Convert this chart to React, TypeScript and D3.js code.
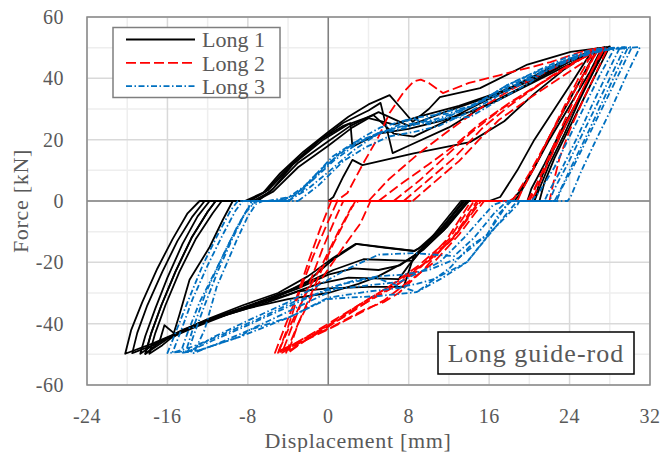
import React from 'react';
import * as d3 from 'd3';

type Pt = [number, number];

// Long 1 – black, solid
const long1Cycle1: Pt[] = [[0,0],[0.5,1.3],[1.5,8],[2.4,13.4],[3.4,11.7],[8.5,15.5],[14.1,19.2],[17.5,26],[20.5,35],[23.5,43],[26.3,49.3],[24.5,40],[22.5,30],[20.5,20],[18.8,10],[17.1,1.3],[16,0],[13.8,0],[11.6,-8.5],[9.5,-14.5],[8.5,-16.3],[5.5,-15.2],[2.7,-14],[0.5,-18.5],[-2,-24.5],[-5,-30],[-8.5,-34],[-12,-38.5],[-14,-41.5],[-15.5,-44.5],[-14.8,-37],[-13.8,-25.7],[-11.8,-15],[-10.5,-6.2],[-9.5,0],[-7,0]];
const long1Cycle2: Pt[] = [[-7,0],[-5.5,4],[-3.5,12],[-0.8,20],[1.5,24.5],[2.2,25.4],[2.4,17.7],[5,22],[8,23.5],[11,26],[14,29],[17,33],[20,38],[23,43],[25.5,47],[27.2,49.8],[26,42],[24,31],[22,20],[20.5,11],[19,3],[18.2,0],[13.5,0],[11.4,-8.8],[9.1,-16.6],[7.1,-21],[5,-22.5],[2.5,-22],[0,-24],[-3,-28.5],[-7,-33.5],[-11,-38],[-14.5,-42.5],[-17,-46],[-18.7,-49.8],[-18.2,-44],[-17.2,-35],[-16,-25],[-14.5,-14],[-13,-5],[-11.8,0],[-8,0]];
const long1Cycle3: Pt[] = [[-8,0],[-6.5,2.6],[-4.8,9],[-2.5,16],[0,22.5],[2,27.5],[4,31.5],[6.1,34.5],[7.3,30],[8.4,25.8],[10,30],[11.1,33.9],[15.1,36.8],[19.8,44.5],[24.1,48.6],[27.7,50.2],[26.5,43],[25,34],[23,22],[21.5,12],[20.2,4],[19.8,0],[14,0],[11.8,-8.5],[9.5,-15.8],[7,-21],[5,-24.5],[3,-27],[0,-30],[-4,-32],[-8,-35],[-12,-39],[-15,-43],[-17.5,-46.5],[-20.2,-49.8],[-19.6,-42],[-18.5,-33],[-17,-22],[-15.5,-12.5],[-14,-4],[-12.8,0],[-8.3,0]];
const long1Cycle4: Pt[] = [[-8.3,0],[-6.3,3],[-4,11],[-1,19.5],[1.5,25.5],[4,29.5],[5.2,32],[6.4,15.6],[8,18],[12,24],[15,30],[18,35],[21,40],[24,45.5],[26.8,49.8],[25.5,42],[23.5,30],[22,21],[20.5,11],[19,2],[18.5,0],[13.6,0],[11.2,-9],[9,-15.5],[8.6,-16.3],[2.8,-14],[0.5,-19],[-2,-26],[-5,-31],[-9,-35.5],[-13,-40],[-15.2,-43.5],[-16.3,-40.5],[-16.8,-46],[-18.2,-49.9],[-17.6,-43],[-16.6,-34],[-15.2,-23],[-13.6,-12],[-12,-3.5],[-11.2,0],[-7.8,0]];
const long1Cycle5: Pt[] = [[-7.8,0],[-6,3.5],[-3.5,12],[-0.5,20],[2,25],[4.5,28],[6.5,22],[8.5,21],[11.3,25.4],[14,30],[17,35],[20,40],[23,45],[27.5,50.2],[26.5,44],[25,34],[23.5,24],[22,14],[21,6],[20.5,0],[13.2,0],[10.5,-11],[8,-21],[7,-25.5],[2,-25],[-1,-27],[-4,-30.5],[-8,-34.5],[-12,-39],[-15,-43],[-16.5,-47],[-17.8,-49.8],[-17.2,-43],[-16.2,-34],[-14.8,-23],[-13.2,-12.5],[-11.5,-4],[-10.6,0],[-7.5,0]];
const long1Cycle6: Pt[] = [[-7.5,0],[-5.8,3],[-3,12.5],[0,19.5],[2.2,24.5],[5,29],[8,24.5],[12,29.5],[16,34],[20,39],[24,45.5],[28,50.4],[27,44],[25.5,34],[24,24],[22.5,14],[21.5,6],[21,0],[13.4,0],[11,-10],[8.5,-18],[7.5,-28],[4,-28],[0,-28.5],[-3,-29.5],[-6,-33],[-10,-37],[-13.5,-41.5],[-16,-45],[-18.2,-49.8],[-17.6,-43],[-16.6,-34],[-15.2,-23],[-13.6,-12],[-12,-3.5],[-11.2,0],[-7.2,0]];
const long1Cycle7: Pt[] = [[-7.2,0],[-5.5,3],[-3,11],[0,18],[2.4,24],[4,27],[6.5,25],[9,27.5],[13,31],[17,35.5],[21,41],[25,47.5],[27.5,50],[26.5,43],[25,33],[23.5,22],[22,12],[21,4],[20.5,0],[13.8,0],[11.5,-9.5],[9,-17],[8.4,-19.5],[3.5,-19],[0.5,-22.5],[-3,-28],[-7,-33],[-11,-37.5],[-14.5,-42],[-17,-46.5],[-19.5,-49.6],[-19,-43],[-18,-34],[-16.5,-23],[-15,-13],[-13.5,-5],[-12.3,0],[-8,0]];

// Long 2 – red, dashed
const long2Cycle1: Pt[] = [[0,0],[0.8,0],[1.9,2.6],[3.5,12.4],[5,21],[6.1,28.7],[7.5,35.5],[8.5,39],[9.2,39.6],[10,38.5],[11.4,35.2],[14,38.5],[17,41],[20,43.5],[22.1,45.3],[25,48.5],[27,50],[25.5,42],[23.5,30],[21.5,18],[20,9],[18.5,1],[18,0],[15,0],[12.5,-12],[10,-19.5],[7,-26],[4,-32],[1,-38],[-2,-44],[-5,-49.5],[-4,-41],[-2.8,-29],[-1.5,-18],[-0.1,-7.3],[0.9,0],[4,0]];
const long2Cycle2: Pt[] = [[4,0],[6,7],[9,15.5],[12,23],[15,30],[18,36],[21,41],[24,46],[26.5,49.5],[25.2,42],[23.5,31],[22,21],[20.5,11],[19.2,3],[18.8,0],[14.5,0],[12,-12.5],[9,-21],[6,-28],[3,-34],[0,-40.5],[-3,-46],[-5.3,-49.5],[-4.2,-40],[-3,-30],[-2,-20],[-0.8,-9],[0.3,0],[6.5,0]];
const long2Cycle3: Pt[] = [[6.5,0],[9,6.5],[11,12.5],[14.1,22],[17,29.5],[20,36],[23,42.5],[25.5,47],[27.5,50],[26.3,43],[24.8,33],[23.2,22],[21.8,12],[20.8,4],[20.2,0],[15.2,0],[12.8,-10.5],[10.5,-18.5],[9.6,-22],[7,-30],[5.5,-33],[3.7,-35.2],[0.4,-41],[-2.5,-45.5],[-4.6,-49.5],[-3.5,-40],[-2,-28],[-0.5,-15],[0.8,-5],[1.5,0],[7.5,0]];
const long2Cycle4: Pt[] = [[7.5,0],[10,7],[12.5,14],[15.4,24],[18,31],[21,38],[24,44],[26.8,49.5],[25.8,43],[24.3,32],[22.8,21],[21.5,11],[20.5,3.5],[20,0],[14.8,0],[12.4,-12],[9.5,-20.5],[7,-27],[4.5,-31.5],[2,-37],[-1,-42.5],[-4,-49.5],[-3,-40],[-1,-25],[0.5,-14],[2.2,-3],[2.7,0],[8.4,0]];
const long2Cycle5: Pt[] = [[8.4,0],[10.5,6],[13,13],[15,20],[17,26.5],[20,33.5],[23,40],[25.5,45.5],[27.8,50],[26.8,43],[25.5,34],[24,23],[23,14],[22.4,6],[22,0],[15.5,0],[13,-11],[10.5,-20],[7.5,-27.5],[5.5,-32.5],[2,-38.5],[-0.1,-42],[-3,-46.5],[-5,-49.5],[-4,-42],[-2.5,-32],[-0.5,-20],[1,-10],[2.3,-2],[3,0],[5,0]];
const long2Cycle6: Pt[] = [[5,0],[7,5],[10,12],[12.5,18],[15,25],[18,32],[21,38],[24,44.5],[27.3,50],[26,41],[24.5,31],[23,21],[21.5,11],[20.5,4],[19.8,0],[14.2,0],[11.8,-12.5],[8.8,-23],[6,-29],[3,-34.5],[0,-41],[-2.8,-46.5],[-4.2,-49.5],[-3,-40],[-1,-27],[1.5,-15],[3.2,-7.3],[4.2,0],[6,0]];

// Long 3 – blue, dash-dot
const long3Cycle1: Pt[] = [[-6.5,0],[-3.8,0.3],[-2,6],[0.4,14.4],[2.5,19],[5,22],[8,24],[11.1,28.7],[14.4,31],[17.8,37.8],[20.5,42],[23.8,47],[26.5,49.5],[28.5,50],[27,41],[25.5,31],[24,21],[22.5,11],[21,3],[20.2,0],[17.5,0],[16.4,-1.3],[13.5,-12],[11.1,-19.9],[7.1,-26.4],[4,-27.5],[0,-29],[-3.5,-33],[-7,-38.5],[-10.5,-43.5],[-13.5,-47.5],[-15.5,-49.5],[-14.5,-41],[-13.5,-32],[-12,-21],[-10.5,-11],[-9.2,-3],[-8.5,0],[-5,0]];
const long3Cycle2: Pt[] = [[-5,0],[-2.8,2.6],[-1,9],[1.1,15.5],[3.5,20.9],[5.2,24],[8.4,27],[10,25],[12,27.5],[15,32.5],[18,37.5],[21,42],[24,46.5],[27,49.5],[29.5,50.2],[28.3,42],[26.8,32],[25.3,22],[23.8,12],[22.5,4],[22,0],[18.2,0],[17,-4],[15.8,-11],[14,-15],[12.1,-21.8],[8.8,-29.7],[7.5,-28.2],[4,-29.5],[0,-31.5],[-3.8,-37.8],[-7.8,-42],[-8.8,-44.3],[-12.8,-48.6],[-14.7,-49.6],[-14,-43],[-12.8,-33],[-11.1,-22],[-9.6,-12],[-8.3,-4],[-7.2,0],[-4,0]];
const long3Cycle3: Pt[] = [[-4,0],[-2,4],[0.2,10],[2.5,16.5],[5.2,22.5],[7,24],[9.5,25.5],[12,27],[14.1,27.4],[17,33],[20,38.5],[22.1,43.7],[25,47.5],[28,49.8],[30.2,50.2],[29,42],[27.5,32],[26,22],[24.5,12],[23.2,4],[22.7,0],[18.8,0],[16,-11],[13.8,-19.9],[10.5,-25.5],[8.8,-27],[7.1,-28],[4.8,-25],[1.5,-27],[-0.1,-30],[-3,-34.5],[-7.8,-42],[-11,-46.5],[-13.4,-49.6],[-12.3,-42],[-11.1,-28],[-9.1,-12.7],[-8,-5],[-7.2,-1],[-6.5,0],[-3,0]];
const long3Cycle4: Pt[] = [[-3,0],[-1,5],[1.5,13],[3.7,17.5],[6,21],[8.5,22.5],[11,24.5],[14,29],[17,34.5],[20,39.5],[23,44.5],[26,48.5],[29,50],[27.8,42],[26.2,31],[24.8,21],[23.3,11],[22,3.5],[21.5,0],[17.8,0],[16.5,-4],[14.5,-12],[12.5,-18],[8.6,-17],[5,-17.5],[2,-22],[-1,-27.5],[-4,-33],[-8,-39],[-11.5,-44.5],[-14,-49.5],[-13.3,-43],[-12.3,-34],[-11,-23],[-9.5,-12],[-8.2,-3.5],[-7.6,0],[-4.5,0]];
const long3Cycle5: Pt[] = [[-4.5,0],[-2.5,4.5],[-0.5,11],[2,17.5],[4.9,22.1],[8,25],[10.5,26.5],[13,29],[16,33.5],[19,38.5],[22,43],[25,47],[28,49.5],[31,50.2],[29.8,42],[28,29],[26.5,19],[25.2,10],[24.1,1.3],[23.8,0],[19,0],[18.8,-1.3],[16.2,-10],[13.8,-19.9],[11.4,-25],[8.8,-29.7],[5,-31],[2,-31.5],[-0.1,-32],[-3.8,-37.8],[-8.8,-44.3],[-12.8,-48.6],[-16,-49.6],[-15.2,-43],[-14,-33],[-12.5,-21],[-11,-11],[-9.7,-3],[-9,0],[-6,0]];
const long3Cycle6: Pt[] = [[-6,0],[-3.5,1.5],[-1.5,7],[0.5,13],[3,19],[5.5,22.5],[8.4,27],[10.5,28],[12,28.5],[14.4,31],[17.8,37.8],[21,42.5],[24,46.5],[27,49],[29.8,50],[28.5,41],[27,30.5],[25.5,20],[24,10],[23,3],[22.5,0],[18,0],[15.8,-11],[13,-18.5],[10,-22.5],[7.5,-24],[5,-24.5],[2.5,-26],[0,-28.5],[-4,-34.5],[-8,-40.5],[-11.5,-45.5],[-14.2,-49.5],[-13.5,-42],[-12.2,-30],[-10.5,-18],[-9,-8],[-7.8,-1.5],[-7,0],[-3.8,0]];

const long1Cycles = [long1Cycle1, long1Cycle2, long1Cycle3, long1Cycle4, long1Cycle5, long1Cycle6, long1Cycle7];
const long2Cycles = [long2Cycle1, long2Cycle2, long2Cycle3, long2Cycle4, long2Cycle5, long2Cycle6];
const long3Cycles = [long3Cycle1, long3Cycle2, long3Cycle3, long3Cycle4, long3Cycle5, long3Cycle6];

const xTicks = [-24, -16, -8, 0, 8, 16, 24, 32];
const yTicks = [-60, -40, -20, 0, 20, 40, 60];
const xMinor = [-20, -12, -4, 4, 12, 20, 28];
const yMinor = [-50, -30, -10, 10, 30, 50];

const series = [
  { name: 'Long 1', cycles: long1Cycles, color: '#000000', dash: null, width: 1.8 },
  { name: 'Long 2', cycles: long2Cycles, color: '#FF0000', dash: '10,4', width: 1.8 },
  { name: 'Long 3', cycles: long3Cycles, color: '#0070C0', dash: '6,2.5,1.5,2.5', width: 1.8 },
];

const W = 664;
const H = 452;
const font = '"Times New Roman", "Liberation Serif", Tinos, serif';
const textCol = '#595959';

const App = () => {
  const x = d3.scaleLinear().domain([-24, 32]).range([87, 650]);
  const y = d3.scaleLinear().domain([-60, 60]).range([385, 17]);
  const line = d3.line<Pt>().x(d => x(d[0])).y(d => y(d[1]));

  return (
    <svg width={W} height={H} style={{ position: 'absolute', left: 0, top: 0, background: '#fff' }}>
      {/* minor grid */}
      {xMinor.map(v => (
        <line key={'xm' + v} x1={x(v)} x2={x(v)} y1={y(-60)} y2={y(60)} stroke="#eeeeee" strokeWidth={1.5} />
      ))}
      {yMinor.map(v => (
        <line key={'ym' + v} x1={x(-24)} x2={x(32)} y1={y(v)} y2={y(v)} stroke="#eeeeee" strokeWidth={1.5} />
      ))}
      {/* major grid */}
      {xTicks.map(v => (
        <line key={'xg' + v} x1={x(v)} x2={x(v)} y1={y(-60)} y2={y(60)} stroke="#d9d9d9" strokeWidth={1.5} />
      ))}
      {yTicks.map(v => (
        <line key={'yg' + v} x1={x(-24)} x2={x(32)} y1={y(v)} y2={y(v)} stroke="#d9d9d9" strokeWidth={1.5} />
      ))}
      {/* zero axes */}
      <line x1={x(0)} x2={x(0)} y1={y(-60)} y2={y(60)} stroke="#808080" strokeWidth={1.5} />
      <line x1={x(-24)} x2={x(32)} y1={y(0)} y2={y(0)} stroke="#808080" strokeWidth={1.5} />

      {/* curves */}
      {series.map(s => (
        <g key={s.name}>
          {s.cycles.map((c, i) => (
            <path key={i} d={line(c) || ''} fill="none" stroke={s.color} strokeWidth={s.width}
              strokeDasharray={s.dash || undefined} strokeLinejoin="round" />
          ))}
        </g>
      ))}

      {/* plot border */}
      <rect x={x(-24)} y={y(60)} width={x(32) - x(-24)} height={y(-60) - y(60)} fill="none" stroke="#898989" strokeWidth={1.5} />

      {/* tick labels */}
      {yTicks.map(v => (
        <text key={'yl' + v} x={64} y={y(v)} dy="0.35em" textAnchor="end" fontFamily={font} fontSize={20}
          fill={textCol} letterSpacing={0.5}>{v}</text>
      ))}
      {xTicks.map(v => (
        <text key={'xl' + v} x={x(v)} y={416} dy="0.35em" textAnchor="middle" fontFamily={font} fontSize={20}
          fill={textCol} letterSpacing={0.5}>{v}</text>
      ))}

      {/* axis titles */}
      <text x={358} y={440} dy="0.35em" textAnchor="middle" fontFamily={font} fontSize={22} fill={textCol}
        letterSpacing={0.7}>Displacement [mm]</text>
      <text transform={`translate(20,${(y(60) + y(-60)) / 2}) rotate(-90)`} dy="0.35em" textAnchor="middle"
        fontFamily={font} fontSize={22} fill={textCol} letterSpacing={0.7}>Force [kN]</text>

      {/* legend */}
      <rect x={113} y={27.5} width={167} height={70} fill="#fff" stroke="#7f7f7f" strokeWidth={1.5} />
      {series.map((s, i) => {
        const ly = 39.5 + i * 23.3;
        return (
          <g key={'lg' + s.name}>
            <line x1={126} x2={195} y1={ly} y2={ly} stroke={s.color} strokeWidth={1.8}
              strokeDasharray={s.dash || undefined} />
            <text x={202} y={ly} dy="0.35em" fontFamily={font} fontSize={22} fill={textCol}>{s.name}</text>
          </g>
        );
      })}

      {/* annotation */}
      <rect x={438} y={332} width={196} height={42} fill="#fff" stroke="#000" strokeWidth={1.5} />
      <text x={536} y={353} dy="0.35em" textAnchor="middle" fontFamily={font} fontSize={26} fill={textCol}
        letterSpacing={1}>Long guide-rod</text>
    </svg>
  );
};

export default App;
